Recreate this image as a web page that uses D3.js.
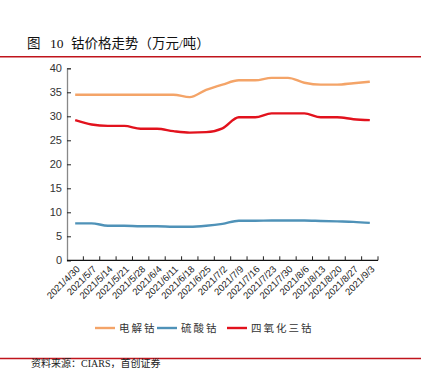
<!DOCTYPE html>
<html>
<head>
<meta charset="utf-8">
<script src="https://cdn.jsdelivr.net/npm/d3@7"></script>
<style>
  body { margin: 0; background: #fff; }
  svg { display: block; }
</style>
</head>
<body>
<div id="chart"></div>
<script>
(function (d3) {

  // weekly dates
  var dates = ["2021/4/30", "2021/5/7", "2021/5/14", "2021/5/21", "2021/5/28", "2021/6/4",
    "2021/6/11", "2021/6/18", "2021/6/25", "2021/7/2", "2021/7/9", "2021/7/16", "2021/7/23",
    "2021/7/30", "2021/8/6", "2021/8/13", "2021/8/20", "2021/8/27", "2021/9/3"];

  var seriesNames = ["电解钴", "硫酸钴", "四氧化三钴"];

  var electrolytic = [34.5, 34.5, 34.5, 34.5, 34.5, 34.5, 34.5, 34.0, 35.5, 36.6, 37.5,
    37.5, 38.0, 38.0, 37.0, 36.6, 36.6, 36.9, 37.2];
  var sulfate = [7.7, 7.7, 7.2, 7.2, 7.1, 7.1, 7.0, 7.0, 7.2, 7.6, 8.25, 8.25, 8.3, 8.3,
    8.3, 8.2, 8.1, 8.0, 7.8];
  var tetroxide = [29.2, 28.3, 28.0, 28.0, 27.4, 27.4, 26.9, 26.6, 26.7, 27.5, 29.8, 29.8,
    30.6, 30.6, 30.6, 29.8, 29.8, 29.4, 29.2];

  var yTicks = [0, 5, 10, 15, 20, 25, 30, 35, 40];

  var colors = ["#f4a468", "#4f92b8", "#e2121d"];
  var allSeries = [electrolytic, sulfate, tetroxide];

  var width = 421, height = 368;
  var cjk = "'Noto Sans CJK SC', sans-serif";
  var serifCjk = "'Liberation Serif', 'Noto Sans CJK SC', serif";

  var svg = d3.select('#chart')
      .append('svg')
      .attr('width', width)
      .attr('height', height);

  // title pieces, spaced like the report
  var title = svg.append('text')
      .attr('y', 48)
      .attr('font-size', '13.5px')
      .attr('font-family', serifCjk)
      .attr('fill', '#111');
  title.append('tspan').attr('x', 27).text("图");
  title.append('tspan').attr('x', 50).attr('font-weight', 'normal').text("10");
  title.append('tspan').attr('x', 71).text("钴价格走势（万元/吨）");

  svg.append('line')
      .attr('x1', 0).attr('x2', width)
      .attr('y1', 56.7).attr('y2', 56.7)
      .attr('stroke', '#c0141c')
      .attr('stroke-width', 1.6);

  svg.append('line')
      .attr('x1', 0).attr('x2', width)
      .attr('y1', 358.5).attr('y2', 358.5)
      .attr('stroke', '#c0141c')
      .attr('stroke-width', 1.6);

  // source note, kept just inside the bottom edge
  svg.append('text')
      .attr('x', 31)
      .attr('y', 367)
      .attr('font-size', '10px')
      .attr('font-family', serifCjk)
      .attr('fill', '#222')
      .text("资料来源：CIARS，首创证券");

  // scales
  var x = d3.scaleBand()
      .domain(dates)
      .range([67, 378])
      .padding(0);

  var y = d3.scaleLinear()
      .domain([0, 40])
      .range([260.3, 68.3]);

  function cx(d) { return x(d) + x.bandwidth() / 2; }

  // y axis
  var yAxis = svg.append('g')
      .attr('transform', 'translate(67,0)')
      .call(d3.axisRight(y).tickValues(yTicks).tickSize(4).tickFormat(d3.format('d')));
  yAxis.select('.domain').attr('stroke', '#888').attr('stroke-width', 1.3);
  yAxis.selectAll('.tick line').attr('stroke', '#222');
  yAxis.selectAll('.tick text')
      .attr('x', -5)
      .attr('text-anchor', 'end')
      .attr('font-family', "'Liberation Sans', Arial, sans-serif")
      .attr('font-size', '11px')
      .attr('fill', '#333');

  // x axis: ticks at band boundaries pointing up
  var bounds = dates.map(function (d) { return x(d); }).concat([x.range()[1]]);
  var xg = svg.append('g');
  xg.append('line')
      .attr('x1', x.range()[0]).attr('x2', x.range()[1])
      .attr('y1', y(0)).attr('y2', y(0))
      .attr('stroke', '#111')
      .attr('stroke-width', 1.2);
  xg.selectAll('.xtick')
      .data(bounds.slice(1))
      .enter()
      .append('line')
      .attr('class', 'xtick')
      .attr('x1', function (d) { return d; })
      .attr('x2', function (d) { return d; })
      .attr('y1', y(0))
      .attr('y2', y(0) - 4)
      .attr('stroke', '#222');

  xg.selectAll('.xlabel')
      .data(dates)
      .enter()
      .append('text')
      .attr('class', 'xlabel')
      .attr('transform', function (d) {
        return 'translate(' + (cx(d) + 3) + ',' + (y(0) + 7) + ') rotate(-45)';
      })
      .attr('text-anchor', 'end')
      .attr('dy', '0.35em')
      .attr('font-family', "'Liberation Sans', Arial, sans-serif")
      .attr('font-size', '9.5px')
      .attr('fill', '#222')
      .text(function (d) { return d; });

  // lines
  var line = d3.line()
      .x(function (d, i) { return cx(dates[i]); })
      .y(function (d) { return y(d); })
      .curve(d3.curveMonotoneX);

  svg.selectAll('.series')
      .data(allSeries)
      .enter()
      .append('path')
      .attr('class', 'series')
      .attr('d', line)
      .attr('fill', 'none')
      .attr('stroke', function (d, i) { return colors[i]; })
      .attr('stroke-width', 2.4);

  // legend
  var legendX = [95, 157, 227];
  var legend = svg.selectAll('.legend')
      .data(seriesNames)
      .enter()
      .append('g')
      .attr('class', 'legend')
      .attr('transform', function (d, i) { return 'translate(' + legendX[i] + ',328)'; });

  legend.append('line')
      .attr('x1', 0).attr('x2', 20)
      .attr('y1', 0).attr('y2', 0)
      .attr('stroke', function (d, i) { return colors[i]; })
      .attr('stroke-width', 2.4);

  legend.append('text')
      .attr('x', 24)
      .attr('dy', '0.35em')
      .attr('font-family', cjk)
      .attr('font-size', '10.5px')
      .attr('letter-spacing', '2px')
      .attr('fill', '#333')
      .text(function (d) { return d; });

})(window.d3);
</script>
</body>
</html>
